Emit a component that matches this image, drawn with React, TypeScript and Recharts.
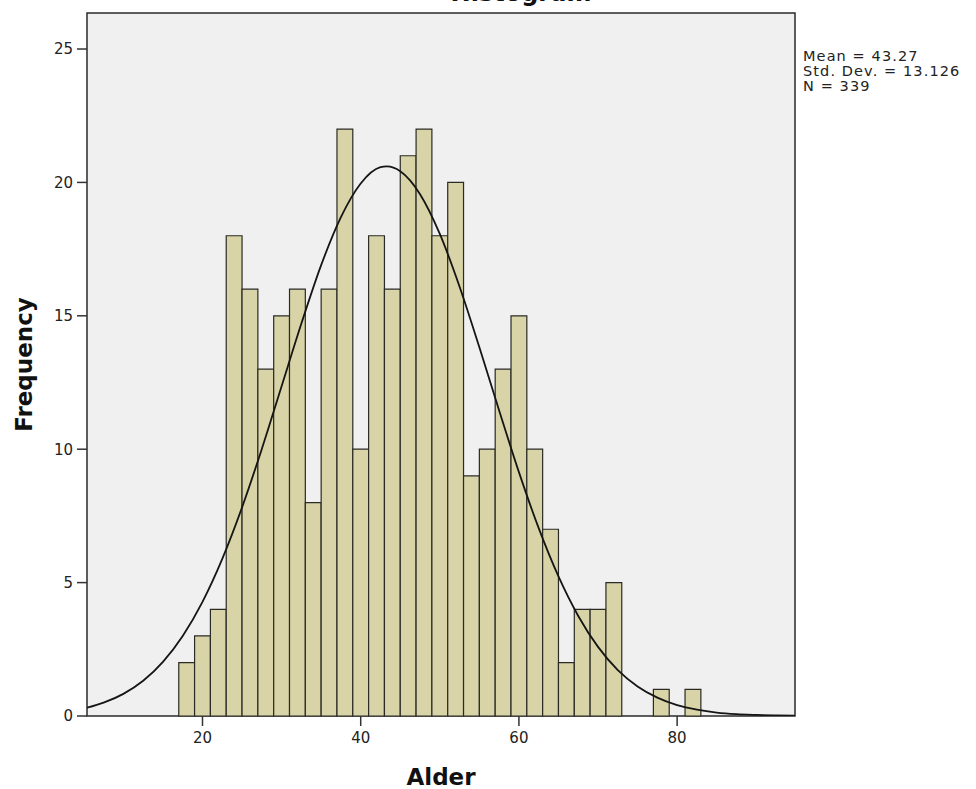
import {
  ComposedChart, Line, XAxis, YAxis, ReferenceArea, Label,
} from 'recharts'

// histogram bins (left edge, width 2) and counts
const binStarts = [17, 19, 21, 23, 25, 27, 29, 31, 33, 35, 37, 39, 41, 43, 45, 47, 49, 51, 53, 55, 57, 59, 61, 63, 65, 67, 69, 71, 73, 75, 77, 79, 81]
const counts = [2, 3, 4, 18, 16, 13, 15, 16, 8, 16, 22, 10, 18, 16, 21, 22, 18, 20, 9, 10, 13, 15, 10, 7, 2, 4, 4, 5, 0, 0, 1, 0, 1]
const binWidth = 2

// normal curve
const curveX = [5.4, 7.5, 10, 12.5, 15, 17.5, 20, 22.5, 25, 27.5, 30, 32.5, 35, 37.5, 40, 42.5, 43.3, 45, 47.5, 50, 52.5, 55, 57.5, 60, 62.5, 65, 67.5, 70, 72.5, 75, 77.5, 80, 82.5, 85, 87.5, 90, 92.5, 94.9]
const curveY = [0.31, 0.5, 0.83, 1.32, 2.03, 3.0, 4.28, 5.89, 7.82, 10.01, 12.36, 14.71, 16.9, 18.7, 19.96, 20.57, 20.6, 20.42, 19.56, 18.07, 16.09, 13.82, 11.45, 9.14, 7.04, 5.23, 3.75, 2.59, 1.72, 1.11, 0.69, 0.41, 0.24, 0.13, 0.07, 0.04, 0.02, 0.01]

const xTicks = [20, 40, 60, 80]
const yTicks = [0, 5, 10, 15, 20, 25]
const statLines = ['Mean = 43.27', 'Std. Dev. = 13.126', 'N = 339']

const X_DOMAIN: [number, number] = [5.4, 94.9]
const Y_DOMAIN: [number, number] = [0, 26.35]

const curve = curveX.map((x, i) => ({ x, y: curveY[i] }))

const tickStyle = { fontSize: 15, fill: '#222', fontFamily: 'DejaVu Sans' }

export default function App() {
  return (
    <div style={{ position: 'absolute', left: 0, top: 0, width: 976, height: 789, background: '#fff', overflow: 'hidden' }}>
      <div style={{
        position: 'absolute', left: 0, width: 1042, top: -19, textAlign: 'center',
        fontFamily: 'DejaVu Sans', fontWeight: 'bold', fontSize: 24, lineHeight: '24px', color: '#111',
      }}>
        Histogram
      </div>

      <ComposedChart width={976} height={789} data={curve} margin={{ top: 13, right: 181, left: 0, bottom: 0 }}>
        <XAxis
          dataKey="x" type="number" domain={X_DOMAIN} ticks={xTicks} allowDataOverflow
          height={73} tickSize={10} tickMargin={6}
          tick={tickStyle} tickLine={{ stroke: '#333', strokeWidth: 1.5 }}
          axisLine={false}
        >
          <Label value="Alder" position="insideBottom" offset={4}
            style={{ fontFamily: 'DejaVu Sans', fontWeight: 'bold', fontSize: 23, fill: '#111' }} />
        </XAxis>
        <YAxis
          type="number" domain={Y_DOMAIN} ticks={yTicks} allowDataOverflow
          width={87} tickSize={10} tickMargin={4}
          tick={tickStyle} tickLine={{ stroke: '#333', strokeWidth: 1.5 }}
          axisLine={false}
        >
          <Label value="Frequency" angle={-90} position="insideLeft" offset={24}
            style={{ textAnchor: 'middle', fontFamily: 'DejaVu Sans', fontWeight: 'bold', fontSize: 23, fill: '#111' }} />
        </YAxis>

        {/* plot background + frame */}
        <ReferenceArea x1={X_DOMAIN[0]} x2={X_DOMAIN[1]} y1={Y_DOMAIN[0]} y2={Y_DOMAIN[1]}
          fill="#f0f0f0" fillOpacity={1} stroke="#2a2a2a" strokeWidth={1.5} ifOverflow="visible" />

        {counts.map((c, i) => c > 0 && (
          <ReferenceArea key={i} x1={binStarts[i]} x2={binStarts[i] + binWidth} y1={0} y2={c}
            fill="#d8d4a7" fillOpacity={1} stroke="#2a2a26" strokeWidth={1.2} />
        ))}

        <Line type="monotone" dataKey="y" stroke="#151515" strokeWidth={1.8}
          dot={false} activeDot={false} isAnimationActive={false} />
      </ComposedChart>

      <div style={{
        position: 'absolute', left: 803, top: 49, fontFamily: 'DejaVu Sans', fontSize: 14.5,
        lineHeight: '15px', color: '#222', letterSpacing: 1.1, whiteSpace: 'nowrap',
      }}>
        {statLines.map(s => <div key={s}>{s}</div>)}
      </div>
    </div>
  )
}
